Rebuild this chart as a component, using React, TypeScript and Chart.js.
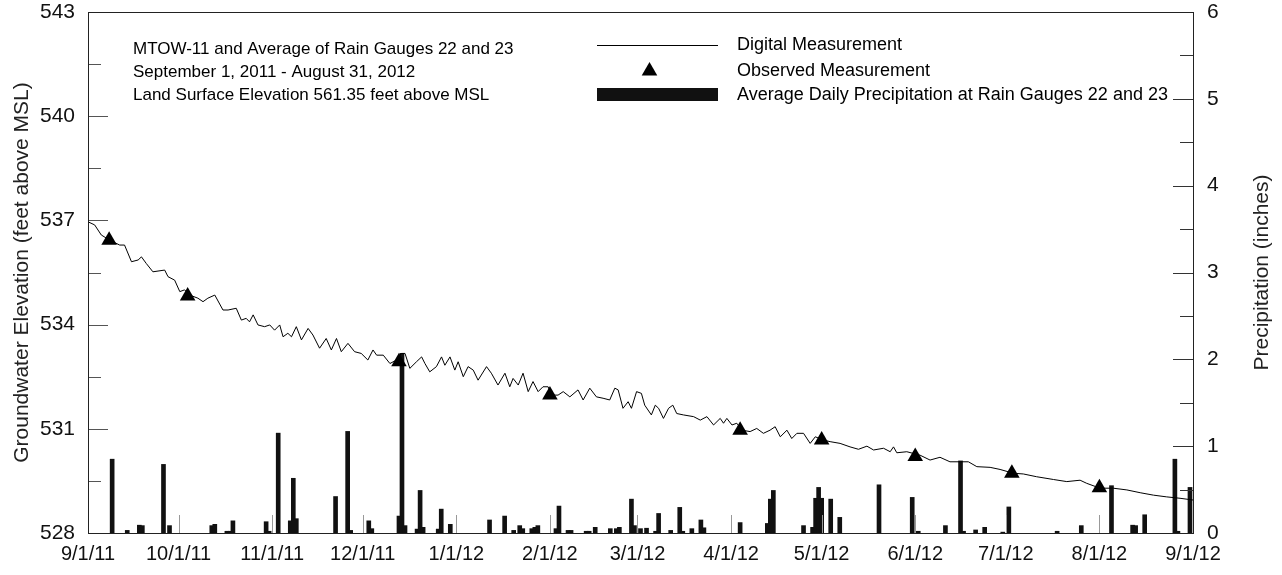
import React, { useEffect, useRef } from "react";
import Chart from "chart.js/auto";

// Days are counted from 9/1/11 (day 0) to 9/1/12 (day 366).
const MONTH_DAYS = [0, 30, 61, 91, 122, 153, 182, 213, 243, 274, 304, 335, 366];
const MONTH_LABELS = [
  "9/1/11", "10/1/11", "11/1/11", "12/1/11", "1/1/12", "2/1/12", "3/1/12",
  "4/1/12", "5/1/12", "6/1/12", "7/1/12", "8/1/12", "9/1/12",
];

// Digital (continuous) groundwater record, MTOW-11
const GW_DAYS = [
  0, 2.2, 4.4, 7.2, 10.5, 12.1, 14.4, 16.6, 17.7, 19.3, 21.5, 25.4, 26.5, 28.7,
  30.4, 32, 33.7, 36.4, 38.1, 39.7, 42, 44.7, 46.4, 49.1, 50.8, 52.4, 53.5, 54.7,
  56.3, 58.5, 60.2, 61.8, 63.5, 64.6, 66.2, 67.4, 69, 70.7, 72.9, 74.5, 76.7,
  78.9, 80.6, 82.3, 83.9, 86.1, 88.3, 90.5, 92.7, 94.4, 95.6, 97.8, 100, 102.2,
  103.8, 105, 106.6, 108.8, 110.5, 111.6, 113.2, 115.4, 117.1, 118.2, 119.9,
  121.5, 122.6, 124.3, 125.9, 127.6, 129.2, 132, 133.6, 135.8, 138.1, 139.7,
  140.8, 142.5, 144.1, 145.8, 147.4, 149.1, 150.7, 152.4, 153.5, 155.7, 157.4,
  159.6, 162.3, 164, 166.2, 168.4, 170.6, 172.8, 174.5, 175.6, 177.2, 178.9,
  180, 181.7, 183.3, 184.4, 186.6, 187.9, 189, 190.6, 192.3, 193.7, 195, 197.2,
  200.6, 202.8, 205, 207.2, 209.4, 210.5, 211.6, 213.3, 214.9, 216.6, 219.3,
  221.5, 223.7, 225.9, 227.6, 229.3, 231.5, 233.1, 234.8, 237, 239.2, 240.9,
  243.4, 245.8, 249.1, 252.4, 255.2, 258, 260.2, 263.5, 265.7, 266.8, 267.9,
  271.2, 275.6, 278.9, 282.2, 285.5, 288.9, 291.6, 294.4, 298.8, 302.1, 306.5,
  309.8, 314.2, 319.8, 324.2, 328.6, 330.8, 335.2, 339.6, 344.1, 348.5, 352.9,
  357.3, 361.7, 366,
];
const GW_ELEV = [
  536.96, 536.87, 536.58, 536.43, 536.29, 536.29, 535.81, 535.86, 535.95, 535.76,
  535.52, 535.57, 535.38, 535.28, 534.95, 535.0, 534.85, 534.76, 534.66, 534.76,
  534.85, 534.42, 534.42, 534.47, 534.13, 534.18, 534.08, 534.28, 533.99, 533.94,
  533.99, 533.84, 533.99, 533.65, 533.75, 533.65, 533.94, 533.56, 533.89, 533.7,
  533.32, 533.6, 533.27, 533.6, 533.22, 533.46, 533.22, 533.17, 532.98, 533.27,
  533.12, 533.12, 532.88, 532.98, 533.17, 533.17, 532.74, 532.93, 533.07, 532.88,
  532.64, 532.79, 533.07, 532.83, 533.07, 532.69, 532.93, 532.5, 532.79, 532.69,
  532.4, 532.79, 532.6, 532.26, 532.6, 532.21, 532.45, 532.26, 532.6, 532.07,
  532.36, 532.07, 532.21, 532.21, 531.97, 531.97, 532.07, 531.92, 532.12, 531.83,
  532.17, 531.92, 531.88, 531.83, 532.17, 532.12, 531.59, 531.78, 531.59, 532.07,
  532.02, 531.68, 531.4, 531.68, 531.59, 531.3, 531.59, 531.68, 531.44, 531.4,
  531.35, 531.25, 531.35, 531.11, 531.3, 531.16, 531.3, 531.11, 531.16, 530.96,
  530.92, 531.01, 530.87, 530.96, 531.06, 530.77, 530.96, 530.72, 530.87, 530.87,
  530.58, 530.77, 530.68, 530.63, 530.58, 530.48, 530.41, 530.5, 530.39, 530.44,
  530.34, 530.48, 530.31, 530.34, 530.24, 530.1, 530.18, 530.05, 530.05, 530.05,
  529.91, 529.89, 529.83, 529.72, 529.7, 529.62, 529.54, 529.48, 529.52, 529.43,
  529.29, 529.29, 529.24, 529.16, 529.09, 529.04, 529.0, 528.95,
];

// Manual (observed) water-level measurements
const OBS_DAYS = [7, 33, 103, 153, 216, 243, 274, 306, 335];
const OBS_ELEV = [536.43, 534.82, 532.93, 531.97, 530.96, 530.68, 530.2, 529.72, 529.3];

// Average daily precipitation, rain gauges 22 and 23 (inches)
const RAIN_DAYS = [
  8, 13, 17, 18, 25, 27, 41, 42, 46, 47, 48, 59, 60, 63, 67, 68, 69, 82, 86, 87,
  93, 94, 103, 104, 105, 109, 110, 111, 116, 117, 120, 133, 138, 141, 143, 144,
  147, 148, 149, 155, 156, 159, 160, 165, 166, 168, 173, 175, 176, 180, 181, 183,
  185, 188, 189, 193, 196, 197, 200, 203, 204, 216, 225, 226, 227, 237, 240, 241,
  242, 243, 246, 249, 262, 273, 275, 284, 289, 290, 294, 297, 303, 305, 321, 329,
  339, 346, 347, 350, 360, 361, 365,
];
const RAIN_INCHES = [
  0.85, 0.03, 0.09, 0.085, 0.79, 0.085, 0.085, 0.1, 0.02, 0.02, 0.14, 0.13, 0.02,
  1.15, 0.14, 0.63, 0.165, 0.42, 1.17, 0.03, 0.14, 0.05, 0.195, 2.07, 0.085,
  0.045, 0.49, 0.065, 0.045, 0.275, 0.1, 0.15, 0.195, 0.03, 0.085, 0.05, 0.05,
  0.065, 0.085, 0.05, 0.31, 0.03, 0.03, 0.02, 0.02, 0.065, 0.05, 0.05, 0.065,
  0.39, 0.085, 0.05, 0.055, 0.02, 0.225, 0.03, 0.295, 0.02, 0.05, 0.15, 0.06,
  0.12, 0.11, 0.39, 0.49, 0.085, 0.065, 0.4, 0.525, 0.4, 0.39, 0.18, 0.555, 0.41,
  0.02, 0.085, 0.83, 0.02, 0.035, 0.065, 0.01, 0.3, 0.02, 0.085, 0.545, 0.09,
  0.085, 0.21, 0.85, 0.02, 0.525,
];

const ELEV_TICKS = [528, 531, 534, 537, 540, 543];
const RAIN_TICKS = [0, 1, 2, 3, 4, 5, 6];

const INFO_LINES = [
  "MTOW-11 and Average of Rain Gauges 22 and 23",
  "September 1, 2011 - August 31, 2012",
  "Land Surface Elevation 561.35 feet above MSL",
];
const LEGEND_LABELS = [
  "Digital Measurement",
  "Observed Measurement",
  "Average Daily Precipitation at Rain Gauges 22 and 23",
];
const LEFT_TITLE = "Groundwater Elevation (feet above MSL)";
const RIGHT_TITLE = "Precipitation (inches)";

const FONT = "'Liberation Sans', Arial, sans-serif";

const decorations = {
  id: "decorations",
  afterDraw(chart: any) {
    const { ctx, chartArea: a, scales } = chart;
    const xs = scales.x;
    const yl = scales.y;
    const yr = scales.y1;
    ctx.save();

    // inward tick marks
    ctx.lineWidth = 1;
    ctx.strokeStyle = "#555";
    const hline = (x0: number, x1: number, y: number) => {
      const yy = Math.round(y) + 0.5;
      ctx.beginPath();
      ctx.moveTo(x0, yy);
      ctx.lineTo(x1, yy);
      ctx.stroke();
    };
    for (let i = 0; i < ELEV_TICKS.length; i++) {
      const v = ELEV_TICKS[i];
      hline(a.left, a.left + 20, yl.getPixelForValue(v));
      if (i < ELEV_TICKS.length - 1) {
        const m = (v + ELEV_TICKS[i + 1]) / 2;
        hline(a.left, a.left + 13, yl.getPixelForValue(m));
      }
    }
    ctx.strokeStyle = "#333";
    for (let i = 0; i < RAIN_TICKS.length; i++) {
      const v = RAIN_TICKS[i];
      hline(a.right - 20, a.right, yr.getPixelForValue(v));
      if (i < RAIN_TICKS.length - 1) {
        const m = (v + RAIN_TICKS[i + 1]) / 2;
        hline(a.right - 13, a.right, yr.getPixelForValue(m));
      }
    }
    ctx.strokeStyle = "#999";
    for (const d of MONTH_DAYS) {
      const x = Math.round(xs.getPixelForValue(d)) + 0.5;
      ctx.beginPath();
      ctx.moveTo(x, a.bottom);
      ctx.lineTo(x, a.bottom - 18);
      ctx.stroke();
    }

    // plot frame
    ctx.strokeStyle = "#222";
    ctx.strokeRect(
      Math.round(a.left) + 0.5,
      Math.round(a.top) + 0.5,
      Math.round(a.right - a.left),
      Math.round(a.bottom - a.top)
    );

    // axis titles (both read bottom-to-top)
    ctx.fillStyle = "#222";
    ctx.font = `21px ${FONT}`;
    ctx.textAlign = "center";
    ctx.textBaseline = "middle";
    const cy = (a.top + a.bottom) / 2;
    ctx.save();
    ctx.translate(22, cy);
    ctx.rotate(-Math.PI / 2);
    ctx.fillText(LEFT_TITLE, 0, 0);
    ctx.restore();
    ctx.save();
    ctx.translate(1262, cy);
    ctx.rotate(-Math.PI / 2);
    ctx.fillText(RIGHT_TITLE, 0, 0);
    ctx.restore();

    // station information block
    ctx.fillStyle = "#000";
    ctx.font = `17px ${FONT}`;
    ctx.textAlign = "left";
    INFO_LINES.forEach((t, i) => ctx.fillText(t, 133, 49 + i * 23));

    // legend
    const ds = chart.data.datasets;
    const lx0 = 597;
    const lx1 = 718;
    const rows = [45, 71, 95];
    ctx.strokeStyle = ds[0].borderColor;
    ctx.lineWidth = 1;
    ctx.beginPath();
    ctx.moveTo(lx0, rows[0] + 0.5);
    ctx.lineTo(lx1, rows[0] + 0.5);
    ctx.stroke();
    const r = ds[1].pointRadius;
    const cx = (lx0 + lx1) / 2 - 8;
    ctx.fillStyle = ds[1].pointBackgroundColor;
    ctx.beginPath();
    ctx.moveTo(cx, rows[1] - r);
    ctx.lineTo(cx + r * 0.866, rows[1] + r * 0.5);
    ctx.lineTo(cx - r * 0.866, rows[1] + r * 0.5);
    ctx.closePath();
    ctx.fill();
    ctx.fillStyle = ds[2].backgroundColor;
    ctx.fillRect(lx0, rows[2] - 7, lx1 - lx0, 13);
    ctx.fillStyle = "#000";
    ctx.font = `18px ${FONT}`;
    LEGEND_LABELS.forEach((t, i) => ctx.fillText(t, 737, rows[i]));

    ctx.restore();
  },
};

export default function App() {
  const canvasRef = useRef<HTMLCanvasElement | null>(null);

  useEffect(() => {
    const canvas = canvasRef.current;
    if (!canvas) return;
    const chart = new Chart(canvas, {
      type: "line",
      data: {
        datasets: [
          {
            label: LEGEND_LABELS[0],
            data: GW_DAYS.map((d, i) => ({ x: d, y: GW_ELEV[i] })),
            borderColor: "#000",
            borderWidth: 1,
            pointRadius: 0,
            tension: 0,
            yAxisID: "y",
            order: 2,
          },
          {
            label: LEGEND_LABELS[1],
            data: OBS_DAYS.map((d, i) => ({ x: d, y: OBS_ELEV[i] })),
            showLine: false,
            pointStyle: "triangle",
            pointRadius: 9,
            pointBackgroundColor: "#000",
            pointBorderColor: "#000",
            pointBorderWidth: 0,
            yAxisID: "y",
            order: 1,
          },
          {
            type: "bar",
            label: LEGEND_LABELS[2],
            data: RAIN_DAYS.map((d, i) => ({ x: d, y: RAIN_INCHES[i] })),
            backgroundColor: "#111",
            borderWidth: 0,
            barThickness: 4,
            yAxisID: "y1",
            order: 3,
          } as any,
        ],
      },
      options: {
        animation: false,
        responsive: false,
        devicePixelRatio: 1,
        layout: { padding: { top: 12, left: 0, right: 0, bottom: 0 } },
        plugins: { legend: { display: false }, tooltip: { enabled: false } },
        scales: {
          x: {
            type: "linear",
            min: 0,
            max: 366,
            offset: false,
            grid: { display: false, drawTicks: false },
            border: { display: false },
            afterBuildTicks: (s: any) => {
              s.ticks = MONTH_DAYS.map((v) => ({ value: v }));
            },
            afterFit: (s: any) => {
              s.height = 42;
            },
            ticks: {
              autoSkip: false,
              maxRotation: 0,
              padding: 9,
              color: "#111",
              font: { family: FONT, size: 20 },
              callback: (v: any) => MONTH_LABELS[MONTH_DAYS.indexOf(v)] ?? "",
            },
          },
          y: {
            position: "left",
            min: 528,
            max: 543,
            grid: { display: false, drawTicks: false },
            border: { display: false },
            afterBuildTicks: (s: any) => {
              s.ticks = ELEV_TICKS.map((v) => ({ value: v }));
            },
            afterFit: (s: any) => {
              s.width = 88;
              s.paddingTop = 0;
            },
            ticks: {
              padding: 13,
              color: "#111",
              font: { family: FONT, size: 21 },
            },
          },
          y1: {
            position: "right",
            min: 0,
            max: 6,
            grid: { display: false, drawTicks: false },
            border: { display: false },
            afterBuildTicks: (s: any) => {
              s.ticks = RAIN_TICKS.map((v) => ({ value: v }));
            },
            afterFit: (s: any) => {
              s.width = 89;
              s.paddingTop = 0;
            },
            ticks: {
              padding: 14,
              color: "#111",
              font: { family: FONT, size: 21 },
            },
          },
        },
      },
      plugins: [decorations],
    });
    return () => chart.destroy();
  }, []);

  return (
    <div style={{ position: "absolute", left: 0, top: 0, width: 1282, height: 575, background: "#fff" }}>
      <canvas ref={canvasRef} width={1282} height={575} />
    </div>
  );
}
